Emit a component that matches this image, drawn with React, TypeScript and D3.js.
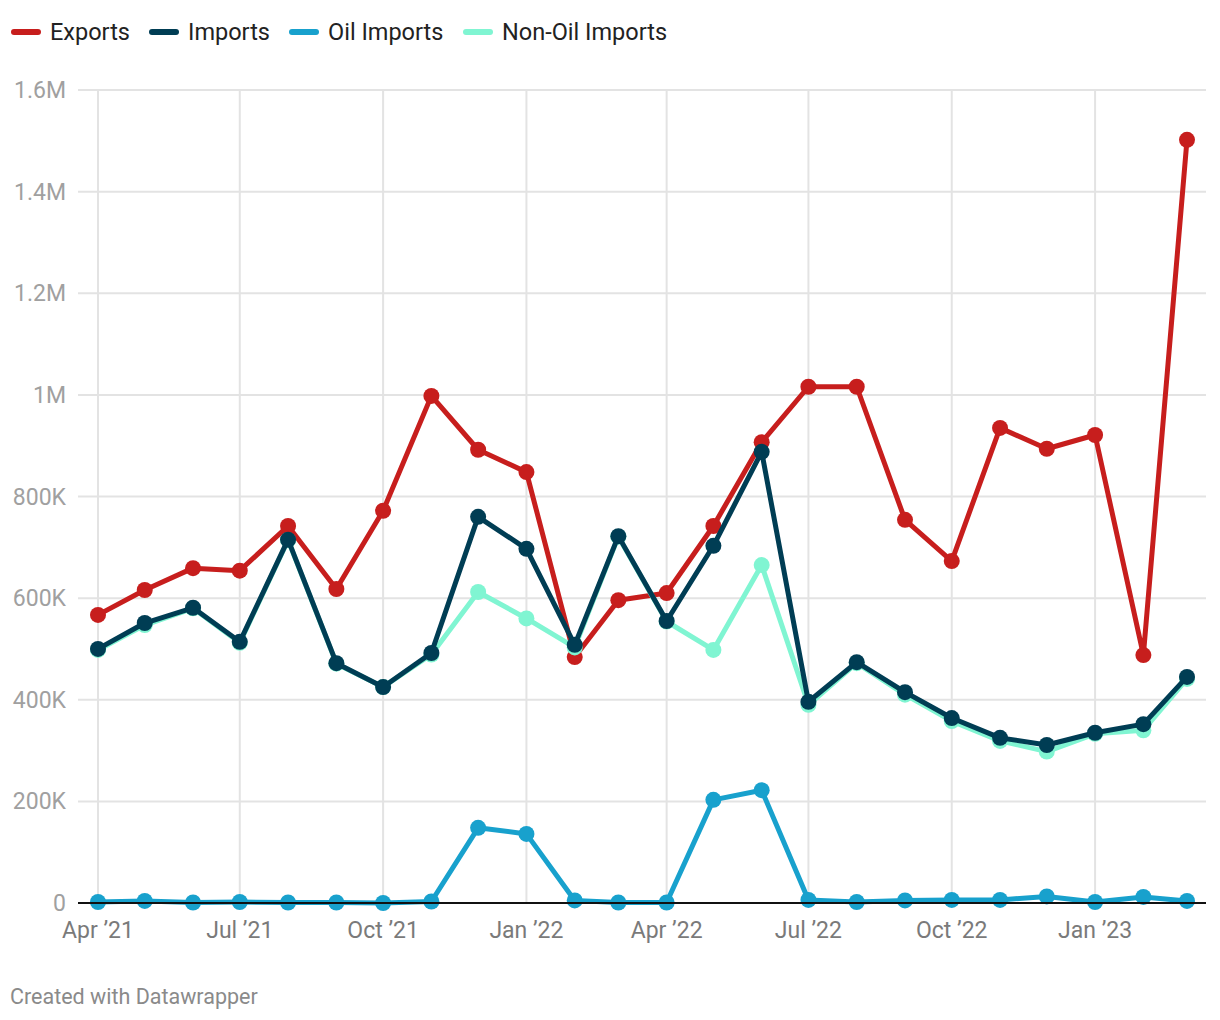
import React from "react";
import * as d3 from "d3";

const months = [
  "2021-04","2021-05","2021-06","2021-07","2021-08","2021-09","2021-10","2021-11","2021-12",
  "2022-01","2022-02","2022-03","2022-04","2022-05","2022-06","2022-07","2022-08","2022-09",
  "2022-10","2022-11","2022-12","2023-01","2023-02","2023-03",
];
const exportsK = [567,616,659,654,742,618,772,998,892,848,484,596,610,742,907,1016,1016,754,673,935,894,921,488,1502];
const importsK = [500,551,581,514,715,472,425,492,760,697,508,722,555,703,888,396,474,415,364,325,311,335,352,445];
const oilK = [2,4,1,2,1,1,0,3,148,136,5,1,1,203,222,6,2,5,6,6,13,2,12,4];
const nonOilK = [498,547,580,512,714,471,425,489,612,560,503,721,554,498,665,390,472,410,358,319,298,333,340,441];
const yTicks = [0,200000,400000,600000,800000,1000000,1200000,1400000,1600000];
const yTickLabels = ["0","200K","400K","600K","800K","1M","1.2M","1.4M","1.6M"];
const xTicks = ["2021-04","2021-07","2021-10","2022-01","2022-04","2022-07","2022-10","2023-01"];
const xTickLabels = ["Apr ’21","Jul ’21","Oct ’21","Jan ’22","Apr ’22","Jul ’22","Oct ’22","Jan ’23"];

const parse = d3.timeParse("%Y-%m");
const dates = months.map((m) => parse(m) as Date);

const series = [
  { name: "Exports", color: "#c71e1d", values: exportsK },
  { name: "Non-Oil Imports", color: "#80f5d2", values: nonOilK },
  { name: "Imports", color: "#003d54", values: importsK },
  { name: "Oil Imports", color: "#18a1cd", values: oilK },
];
const legendOrder = ["Exports", "Imports", "Oil Imports", "Non-Oil Imports"];

export default function App() {
  const W = 1220, H = 1020;
  const x = d3.scaleTime().domain([dates[0], dates[dates.length - 1]]).range([98, 1187]);
  const y = d3.scaleLinear().domain([0, 1600000]).range([903, 90]);
  const line = d3.line<number>().x((_, i) => x(dates[i])).y((v) => y(v * 1000));
  const font = "Roboto, 'Noto Sans', sans-serif";

  const legendX = [12, 150, 290, 464];
  return (
    <svg width={W} height={H} style={{ position: "absolute", left: 0, top: 0, background: "#fff" }} fontFamily={font}>
      {legendOrder.map((n, i) => {
        const s = series.find((q) => q.name === n)!;
        return (
          <g key={n} transform={`translate(${legendX[i]},32)`}>
            <line x1={2} x2={26} y1={0} y2={0} stroke={s.color} strokeWidth={6} strokeLinecap="round" />
            <text x={38} y={8} fontSize={23.5} fill="#222">{n}</text>
          </g>
        );
      })}
      {yTicks.map((t, i) => (
        <g key={t}>
          {t > 0 && <line x1={78} x2={1206} y1={y(t)} y2={y(t)} stroke="#e3e3e3" strokeWidth={2} />}
          <text x={66} y={y(t) + 8} textAnchor="end" fontSize={23} fill="#a0a0a0">{yTickLabels[i]}</text>
        </g>
      ))}
      {xTicks.map((m, i) => {
        const d = parse(m) as Date;
        return (
          <g key={m}>
            <line x1={x(d)} x2={x(d)} y1={90} y2={903} stroke="#e3e3e3" strokeWidth={2} />
            <text x={x(d)} y={938} textAnchor="middle" fontSize={23} fill="#7a7a7a">{xTickLabels[i]}</text>
          </g>
        );
      })}
      {series.map((s) => (
        <g key={s.name}>
          <path d={line(s.values) || ""} fill="none" stroke={s.color} strokeWidth={5} strokeLinejoin="round" />
          {s.values.map((v, i) => (
            <circle key={i} cx={x(dates[i])} cy={y(v * 1000)} r={8} fill={s.color} />
          ))}
        </g>
      ))}
      <line x1={78} x2={1206} y1={903} y2={903} stroke="#111" strokeWidth={2} />
      <text x={10} y={1004} fontSize={21.5} fill="#8a8a8a">Created with Datawrapper</text>
    </svg>
  );
}
